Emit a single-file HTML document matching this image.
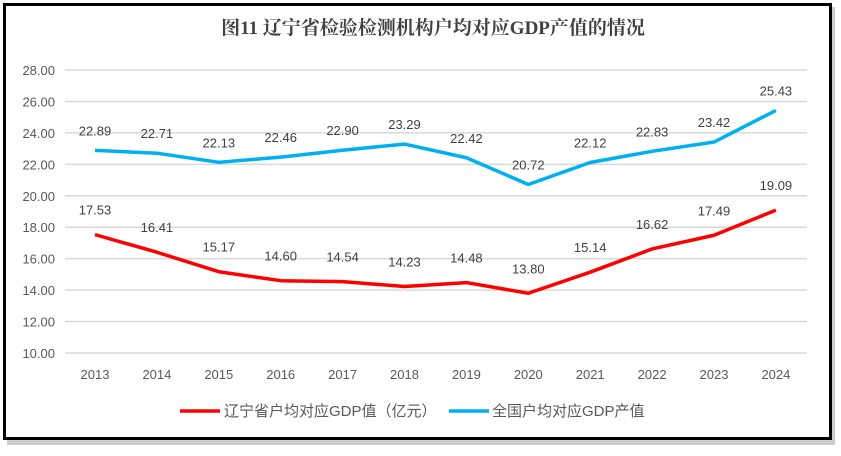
<!DOCTYPE html>
<html><head><meta charset="utf-8"><style>
body{margin:0;background:#fff;}
svg text{font-family:"Liberation Sans","Noto Sans CJK SC",sans-serif;}
</style></head><body>
<svg width="841" height="451" xmlns="http://www.w3.org/2000/svg">
<rect x="7" y="7" width="828" height="438" fill="#999" opacity="0.5"/>
<rect x="4.5" y="4.5" width="826" height="434" fill="#fff" stroke="#000" stroke-width="3"/>
<text x="433" y="34" text-anchor="middle" font-size="19" font-weight="bold" fill="#404040" style="font-family:'Liberation Serif','Noto Serif CJK SC',serif">图11 辽宁省检验检测机构户均对应GDP产值的情况</text>
<g id="grid" stroke="#d9d9d9" stroke-width="1.5"></g>
<g id="yl" font-size="13" fill="#595959" text-anchor="end"></g>
<g id="xl" font-size="13" fill="#595959" text-anchor="middle"></g>
<polyline id="blue" fill="none" stroke="#00b0f0" stroke-width="3.5" stroke-linejoin="round"/>
<polyline id="red" fill="none" stroke="#ff0000" stroke-width="3.5" stroke-linejoin="round"/>
<g id="lb" font-size="13" fill="#404040" text-anchor="middle"></g>
<line x1="180" y1="411" x2="220" y2="411" stroke="#ff0000" stroke-width="3.5"/>
<text x="224" y="416" font-size="15" fill="#595959">辽宁省户均对应GDP值（亿元）</text>
<line x1="449" y1="411" x2="489" y2="411" stroke="#00b0f0" stroke-width="3.5"/>
<text x="492" y="416" font-size="15" fill="#595959">全国户均对应GDP产值</text>
</svg>
<script>
var ns="http://www.w3.org/2000/svg";
function y(v){return 353-(v-10)*15.72;}
function x(i){return 95+61.9*i;}
var g=document.getElementById('grid'),yl=document.getElementById('yl'),xl=document.getElementById('xl'),lb=document.getElementById('lb');
for(var v=10;v<=28;v+=2){var l=document.createElementNS(ns,'line');l.setAttribute('x1',65);l.setAttribute('x2',807);l.setAttribute('y1',y(v));l.setAttribute('y2',y(v));g.appendChild(l);
var t=document.createElementNS(ns,'text');t.setAttribute('x',55);t.setAttribute('y',y(v)+5);t.textContent=v.toFixed(2);yl.appendChild(t);}
var b=[22.89,22.71,22.13,22.46,22.90,23.29,22.42,20.72,22.12,22.83,23.42,25.43];
var r=[17.53,16.41,15.17,14.60,14.54,14.23,14.48,13.80,15.14,16.62,17.49,19.09];
var pb=[],pr=[];
for(var i=0;i<12;i++){pb.push(x(i)+','+y(b[i]));pr.push(x(i)+','+y(r[i]));
var t=document.createElementNS(ns,'text');t.setAttribute('x',x(i));t.setAttribute('y',379);t.textContent=2013+i;xl.appendChild(t);
t=document.createElementNS(ns,'text');t.setAttribute('x',x(i));t.setAttribute('y',y(b[i])-15);t.textContent=b[i].toFixed(2);lb.appendChild(t);
t=document.createElementNS(ns,'text');t.setAttribute('x',x(i));t.setAttribute('y',y(r[i])-20);t.textContent=r[i].toFixed(2);lb.appendChild(t);}
document.getElementById('blue').setAttribute('points',pb.join(' '));
document.getElementById('red').setAttribute('points',pr.join(' '));
</script>
</body></html>
